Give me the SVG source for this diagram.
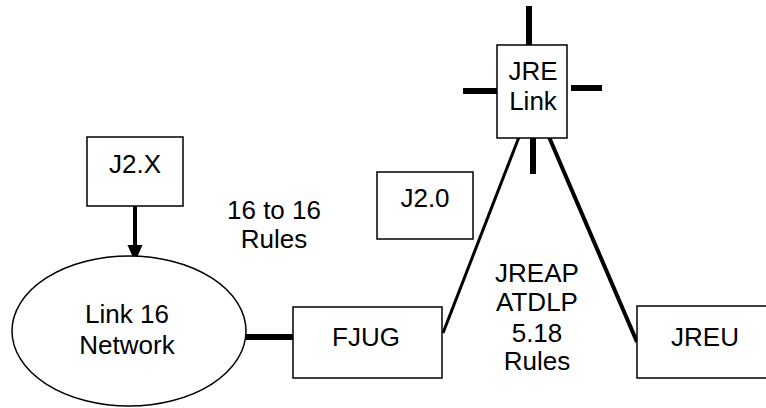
<svg xmlns="http://www.w3.org/2000/svg" width="766" height="408" viewBox="0 0 766 408">
  <style>
    .box { fill: #ffffff; stroke: #000000; stroke-width: 1.5; }
    .lbl { font-family: "Liberation Sans", Arial, sans-serif; font-size: 26px; fill: #000000; text-anchor: middle; }
    .thick { stroke: #000000; stroke-width: 6; fill: none; }
    .link { stroke: #000000; fill: none; }
  </style>
  <rect width="766" height="408" fill="#ffffff"/>

  <!-- connectors -->
  <g id="connectors">
    <line class="link" x1="135" y1="206" x2="135" y2="247" stroke-width="4"/>
    <path d="M127.5,245 L142.5,245 L135,262 Z" fill="#000000"/>
    <line class="thick" x1="246" y1="337" x2="293" y2="337"/>
    <line class="link" x1="519" y1="137" x2="443" y2="333" stroke-width="3"/>
    <line class="link" x1="549" y1="137" x2="637" y2="342" stroke-width="4"/>
    <!-- stubs around the JRE Link box -->
    <line class="thick" x1="529" y1="6" x2="529" y2="45"/>
    <line class="thick" x1="463" y1="91" x2="497" y2="91" stroke-width="7"/>
    <line class="thick" x1="571" y1="88" x2="602" y2="88" stroke-width="7"/>
    <line class="thick" x1="533" y1="138" x2="533" y2="174"/>
  </g>

  <g id="jre-link">
    <rect class="box" x="497" y="45" width="70" height="93"/>
    <text class="lbl" x="533" y="80">JRE</text>
    <text class="lbl" x="533" y="110">Link</text>
  </g>

  <g id="j2x">
    <rect class="box" x="87" y="137" width="96" height="69"/>
    <text class="lbl" x="135" y="173">J2.X</text>
  </g>

  <g id="j20">
    <rect class="box" x="377" y="172" width="96" height="67"/>
    <text class="lbl" x="425" y="207">J2.0</text>
  </g>

  <g id="link16">
    <ellipse class="box" cx="129" cy="331" rx="117" ry="75"/>
    <text class="lbl" x="127" y="323">Link 16</text>
    <text class="lbl" x="127" y="354">Network</text>
  </g>

  <g id="fjug">
    <rect class="box" x="293" y="307" width="149" height="71"/>
    <text class="lbl" x="366" y="346">FJUG</text>
  </g>

  <g id="jreu">
    <rect class="box" x="637" y="306" width="140" height="72"/>
    <text class="lbl" x="705" y="346">JREU</text>
  </g>

  <g id="rules-16">
    <text class="lbl" x="274" y="219">16 to 16</text>
    <text class="lbl" x="274" y="248">Rules</text>
  </g>

  <g id="rules-jreap">
    <text class="lbl" x="537" y="282">JREAP</text>
    <text class="lbl" x="537" y="311">ATDLP</text>
    <text class="lbl" x="537" y="342">5.18</text>
    <text class="lbl" x="537" y="370">Rules</text>
  </g>
</svg>
